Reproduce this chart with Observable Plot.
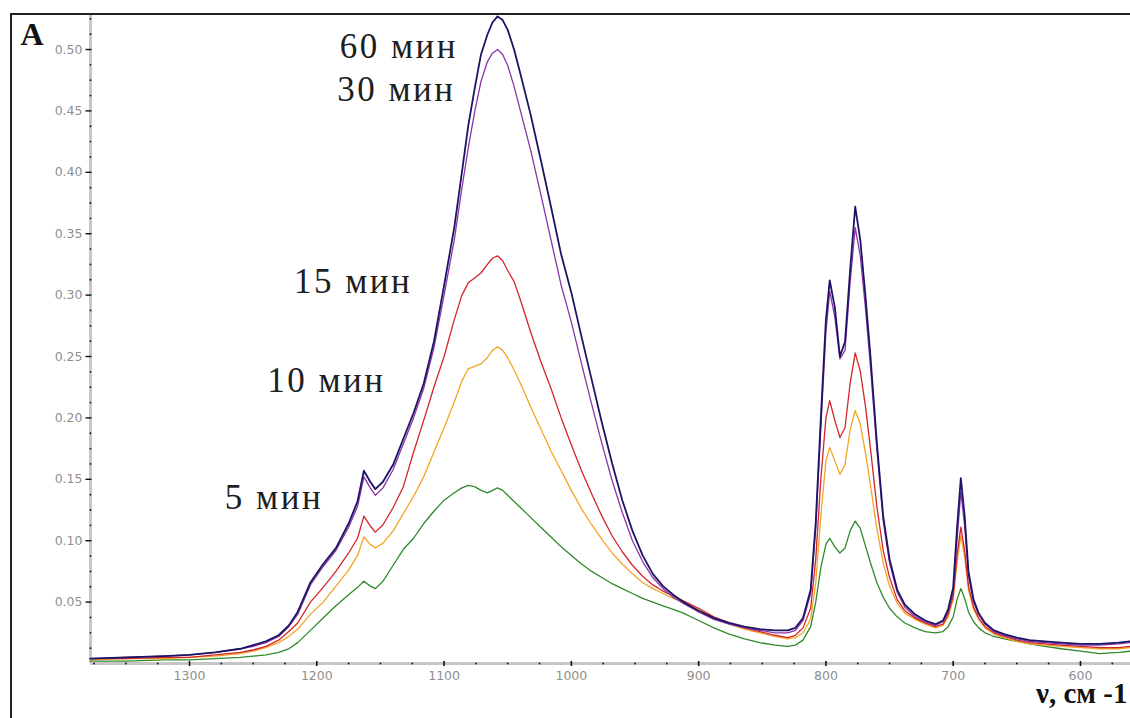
<!DOCTYPE html>
<html>
<head>
<meta charset="utf-8">
<script src="https://cdn.jsdelivr.net/npm/d3@7"></script>
<script src="https://cdn.jsdelivr.net/npm/@observablehq/plot@0.6"></script>
<style>
  html, body { margin: 0; padding: 0; background: #fff; }
  #chart svg { display: block; }
</style>
</head>
<body>
<div id="chart"></div>
<script>
// ---- Data ----
const wavenumber = [1378,1350,1320,1300,1280,1260,1250,1240,1230,1222,1215,1205,1195,1185,1175,1168,1163,1158,1154,1148,1140,1132,1124,1116,1108,1100,1092,1086,1081,1076,1071,1066,1062,1058,1054,1050,1045,1040,1032,1024,1016,1008,1000,992,984,976,968,960,952,944,936,928,920,912,900,888,876,864,852,840,830,824,818,812,808,804,800,797,793,789,785,781,777,773,769,765,760,755,750,744,738,730,722,714,708,704,700,697,694,691,688,684,680,675,668,660,650,640,628,615,600,585,570,561];

const abs60 = [0.004,0.005,0.006,0.007,0.009,0.012,0.015,0.018,0.023,0.031,0.042,0.066,0.081,0.094,0.114,0.132,0.157,0.148,0.142,0.148,0.162,0.183,0.204,0.228,0.262,0.308,0.355,0.400,0.438,0.468,0.496,0.512,0.522,0.527,0.524,0.516,0.500,0.480,0.447,0.410,0.372,0.333,0.302,0.266,0.231,0.196,0.163,0.133,0.108,0.088,0.073,0.063,0.056,0.050,0.043,0.037,0.033,0.030,0.028,0.027,0.027,0.029,0.037,0.060,0.115,0.200,0.280,0.312,0.290,0.250,0.262,0.320,0.372,0.345,0.300,0.250,0.180,0.120,0.085,0.060,0.048,0.040,0.035,0.032,0.035,0.044,0.062,0.110,0.151,0.120,0.075,0.052,0.041,0.033,0.027,0.024,0.021,0.019,0.018,0.017,0.016,0.016,0.017,0.018];

const abs30 = [0.004,0.005,0.006,0.007,0.009,0.012,0.014,0.017,0.022,0.030,0.040,0.064,0.079,0.092,0.111,0.128,0.152,0.143,0.137,0.143,0.158,0.179,0.200,0.224,0.257,0.300,0.345,0.387,0.420,0.449,0.474,0.490,0.497,0.500,0.496,0.487,0.470,0.450,0.418,0.382,0.345,0.308,0.278,0.244,0.211,0.179,0.149,0.123,0.100,0.083,0.070,0.061,0.054,0.049,0.042,0.036,0.032,0.029,0.027,0.025,0.025,0.027,0.035,0.057,0.110,0.192,0.270,0.303,0.282,0.248,0.255,0.310,0.355,0.332,0.290,0.242,0.175,0.116,0.082,0.058,0.046,0.038,0.034,0.031,0.034,0.042,0.058,0.100,0.140,0.112,0.071,0.050,0.040,0.032,0.026,0.023,0.020,0.018,0.017,0.016,0.015,0.015,0.016,0.017];

const abs15 = [0.004,0.004,0.005,0.005,0.007,0.009,0.011,0.014,0.019,0.026,0.033,0.050,0.062,0.075,0.090,0.102,0.120,0.112,0.107,0.113,0.127,0.144,0.172,0.198,0.225,0.250,0.280,0.300,0.310,0.314,0.318,0.325,0.330,0.332,0.328,0.320,0.311,0.296,0.270,0.246,0.224,0.200,0.178,0.157,0.138,0.120,0.104,0.091,0.080,0.071,0.064,0.059,0.055,0.051,0.045,0.038,0.033,0.029,0.026,0.023,0.021,0.023,0.029,0.045,0.085,0.150,0.200,0.214,0.198,0.184,0.192,0.228,0.253,0.238,0.210,0.175,0.128,0.092,0.070,0.052,0.043,0.037,0.033,0.030,0.032,0.040,0.055,0.088,0.111,0.092,0.063,0.046,0.037,0.030,0.025,0.022,0.019,0.017,0.016,0.015,0.014,0.013,0.013,0.014];

const abs10 = [0.003,0.004,0.004,0.005,0.006,0.008,0.010,0.013,0.017,0.022,0.028,0.040,0.050,0.063,0.076,0.088,0.103,0.097,0.094,0.098,0.108,0.122,0.136,0.152,0.172,0.192,0.213,0.230,0.240,0.242,0.244,0.249,0.255,0.258,0.255,0.249,0.239,0.228,0.209,0.191,0.173,0.157,0.141,0.126,0.113,0.101,0.090,0.081,0.073,0.066,0.061,0.057,0.053,0.050,0.044,0.037,0.032,0.028,0.025,0.022,0.020,0.021,0.025,0.036,0.066,0.120,0.165,0.176,0.165,0.154,0.162,0.190,0.206,0.195,0.172,0.145,0.110,0.082,0.063,0.049,0.041,0.036,0.032,0.029,0.031,0.038,0.052,0.082,0.104,0.087,0.060,0.044,0.036,0.029,0.024,0.021,0.018,0.016,0.015,0.014,0.013,0.012,0.012,0.013];

const abs5 = [0.002,0.002,0.003,0.003,0.004,0.005,0.006,0.007,0.009,0.012,0.017,0.027,0.037,0.047,0.056,0.062,0.067,0.063,0.061,0.067,0.080,0.093,0.102,0.114,0.124,0.133,0.139,0.143,0.145,0.144,0.141,0.139,0.141,0.143,0.141,0.137,0.132,0.127,0.119,0.111,0.103,0.095,0.088,0.081,0.075,0.070,0.065,0.061,0.057,0.053,0.050,0.047,0.044,0.041,0.035,0.029,0.024,0.020,0.017,0.015,0.014,0.015,0.019,0.030,0.050,0.078,0.097,0.102,0.095,0.090,0.094,0.108,0.116,0.110,0.096,0.082,0.066,0.054,0.045,0.038,0.033,0.029,0.026,0.025,0.026,0.030,0.038,0.052,0.061,0.053,0.042,0.034,0.029,0.025,0.022,0.020,0.018,0.016,0.014,0.012,0.010,0.008,0.009,0.010];

const seriesNames  = ["5 мин", "10 мин", "15 мин", "30 мин", "60 мин"];
const seriesValues = [abs5, abs10, abs15, abs30, abs60];
const seriesColors = ["#2f8a2a", "#f2a623", "#d3262b", "#8a35a8", "#1d1466"];

const xTicks = [1300, 1200, 1100, 1000, 900, 800, 700, 600];
const yTicks = [0.05, 0.10, 0.15, 0.20, 0.25, 0.30, 0.35, 0.40, 0.45, 0.50];

// curve annotations (anchor = right end of the text, in data units)
const labelText = ["60 мин", "30 мин", "15 мин", "10 мин", "5 мин"];
const labelWn   = [1089, 1091, 1125, 1146, 1195];
const labelAbs  = [0.502, 0.467, 0.311, 0.230, 0.135];

// ---- Build ----
const xDomain = [1377.8, 560.7];
const yDomain = [0, 0.5277];

const rows = [];
seriesNames.forEach((name, s) => {
  wavenumber.forEach((w, i) => rows.push({series: name, wn: w, a: seriesValues[s][i]}));
});
const labels = labelText.map((t, i) => ({t, wn: labelWn[i], a: labelAbs[i]}));

const xMinor = d3.range(575, 1377, 25).filter(v => !xTicks.includes(v));
const yMinor = d3.range(1, 43).map(i => i * 0.0125).filter(v => Math.abs(v / 0.05 - Math.round(v / 0.05)) > 1e-6);

const vTick = {draw(ctx) { ctx.moveTo(0, -2.5); ctx.lineTo(0, 2.5); }};
const hTick = {draw(ctx) { ctx.moveTo(-5, 0); ctx.lineTo(1, 0); }};

const tickFont = "DejaVu Sans, sans-serif";
const serif = "Liberation Serif, Times New Roman, serif";

const chart = Plot.plot({
  width: 1130,
  height: 718,
  marginLeft: 90,
  marginRight: 0,
  marginTop: 15,
  marginBottom: 55,
  style: {background: "#fff", overflow: "visible"},
  x: {domain: xDomain, axis: null},
  y: {domain: yDomain, axis: null},
  color: {domain: seriesNames, range: seriesColors},
  marks: [
    // axis lines
    Plot.ruleX([xDomain[0]], {stroke: "#c6c6c6", strokeWidth: 3}),
    Plot.ruleY([0], {stroke: "#c6c6c6", strokeWidth: 3}),
    // spectra
    Plot.line(rows, {x: "wn", y: "a", z: "series", stroke: "series",
      strokeWidth: d => d.series === "60 мин" ? 1.8 : 1.3, curve: "linear"}),
    // ticks
    Plot.dot(xMinor, {x: d => d, y: 0, r: 0.9, fill: "#111", stroke: null}),
    Plot.dot(xTicks, {x: d => d, y: 0, symbol: vTick, fill: "none", stroke: "#111", strokeWidth: 1.6}),
    Plot.dot(yMinor, {x: xDomain[0], y: d => d, r: 0.9, fill: "#111", stroke: null}),
    Plot.dot(yTicks, {x: xDomain[0], y: d => d, symbol: hTick, fill: "none", stroke: "#111", strokeWidth: 1.4}),
    // tick labels
    Plot.text(xTicks, {x: d => d, y: 0, dy: 12, text: d => String(d), fill: "#8f8f8f", fontSize: 12.5, fontFamily: tickFont}),
    Plot.text(yTicks, {x: xDomain[0], y: d => d, dx: -8, textAnchor: "end", text: d => d.toFixed(2), fill: "#8f8f8f", fontSize: 12.5, fontFamily: tickFont}),
    // curve labels
    Plot.text(labels, {x: "wn", y: "a", text: "t", textAnchor: "end", fontSize: 35, fontFamily: serif, fill: "#1e1e1e"}),
    // axis titles
    Plot.text(["A"], {frameAnchor: "top-left", dx: -70, dy: 7, textAnchor: "start", lineAnchor: "top", fontSize: 32, fontWeight: "bold", fontFamily: serif, fill: "#111"}),
    Plot.text(["ν, см -1"], {frameAnchor: "bottom-right", dx: -3, dy: 39, textAnchor: "end", fontSize: 29, fontWeight: "bold", fontFamily: serif, fill: "#111"})
  ]
});

// wider spacing of the curve labels, as in the reference
d3.select(chart).selectAll("text")
  .filter(function() { return this.textContent.includes("мин"); })
  .attr("letter-spacing", "2.5px");

// outer frame (left and top edges visible in the reference)
d3.select(chart).append("path")
  .attr("d", "M11,730 L11,14 L1130,14")
  .attr("fill", "none")
  .attr("stroke", "#222")
  .attr("stroke-width", 2);

document.getElementById("chart").appendChild(chart);
</script>
</body>
</html>
